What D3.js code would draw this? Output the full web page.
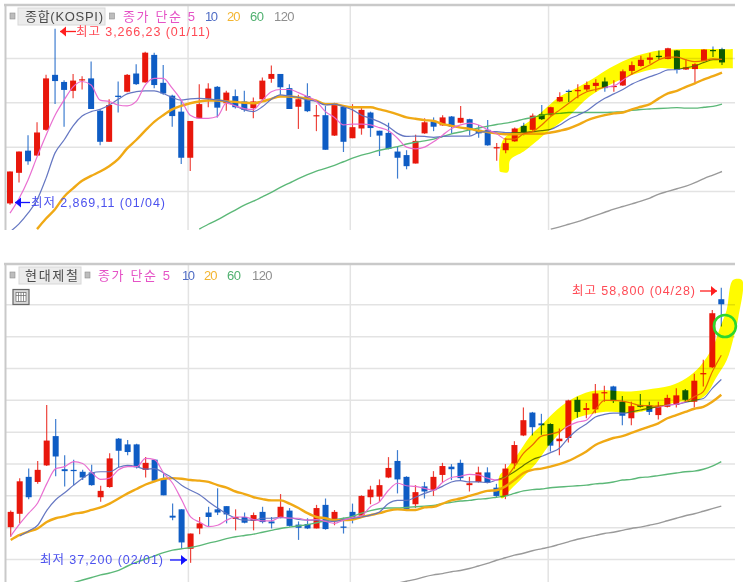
<!DOCTYPE html>
<html lang="ko">
<head>
<meta charset="utf-8">
<title>종합(KOSPI) / 현대제철 일봉</title>
<script src="https://cdn.jsdelivr.net/npm/d3@7/dist/d3.min.js"></script>
<style>
  html, body { margin: 0; padding: 0; background: #fff; }
  svg { display: block; }
  text { font-family: "Liberation Sans", "Noto Sans CJK KR", sans-serif; }
</style>
</head>
<body>
<svg id="chart" width="743" height="586"></svg>
<script>
// ---- KOSPI daily candles ----
const kospiOpen = [2872,2941,2991,2980,3038,3162,3146,3126,3150,3154,
  3081,3011,3115,3124,3165,3145,3207,3144,3115,3079,
  2975,3064,3108,3135,3098,3114,3102,3087,3107,3153,
  3164,3132,3090,3114,3069,3071,3025,3090,3019,3041,
  3077,3036,3031,2989,2981,2962,3030,3057,3048,3068,
  3054,3062,3038,3038,2996,2992,3012,3047,3038,3073,
  3071,3102,3126,3125,3129,3137,3147,3135,3138,3171,
  3182,3196,3205,3198,3217,3174,3175,3193,3218,3220];
const kospiHigh = [2944,2989,3026,3055,3162,3266,3150,3164,3159,3192,
  3083,3107,3147,3164,3186,3214,3212,3184,3117,3105,
  3058,3141,3143,3137,3126,3129,3126,3111,3156,3183,
  3164,3141,3117,3143,3094,3092,3099,3092,3096,3090,
  3079,3036,3054,3000,2992,3027,3064,3066,3071,3069,
  3092,3063,3049,3060,3008,3019,3043,3054,3075,3094,
  3090,3123,3129,3141,3147,3152,3156,3150,3174,3192,
  3205,3211,3217,3223,3218,3197,3188,3220,3226,3223];
const kospiLow = [2869,2919,2959,2979,3036,3096,3045,3109,3129,3085,
  3003,3011,3077,3123,3139,3144,3132,3117,3045,2961,
  2945,3064,3089,3066,3081,3086,3079,3064,3105,3144,
  3117,3085,3040,3078,3035,2993,3024,2988,3019,3027,
  3022,2979,2994,2928,2949,2962,3029,3035,3047,3029,
  3053,3025,3020,3002,2968,2985,3011,3026,3036,3060,
  3070,3101,3101,3109,3125,3124,3124,3124,3137,3162,
  3180,3187,3196,3197,3165,3173,3144,3193,3202,3184];
const kospiClose = [2944,2989,2967,3032,3154,3148,3128,3149,3152,3085,
  3011,3094,3112,3162,3141,3212,3139,3120,3069,2975,
  3058,3096,3131,3088,3122,3089,3083,3102,3149,3164,
  3134,3085,3107,3080,3071,2993,3098,3011,3044,3083,
  3042,3025,2995,2975,2956,3013,3055,3045,3066,3045,
  3065,3038,3030,3003,2999,3008,3041,3032,3070,3062,
  3089,3112,3124,3128,3139,3144,3132,3137,3170,3184,
  3196,3201,3202,3222,3173,3179,3186,3219,3216,3190];

// KOSPI moving averages; each *Start is the candle index of the first value
const kospiMa5Start = 0;
const kospiMa5 = [2850,2883,2925,2977,3026,3071,3105,3135,3147,3139,3105,3102,3094,3092,3102,3139,3154,3154,3132,3105,3071,3064,3064,3068,3098,3092,3086,
  3084,3105,3124,3129,3129,3122,3113,3102,3079,3066,3049,3051,3051,3049,3043,3036,3019,2999,2995,2999,3011,3026,3041,3049,3053,3049,3038,3029,
  3017,3017,3029,3034,3049,3068,3083,3098,3113,3124,3129,3134,3137,3150,3164,3174,3184,3196,3202,3202,3196,3192,3194,3198,3197];
const kospiMa10Start = 0;
const kospiMa10 = [2808,2826,2850,2880,2929,2986,3015,3047,3069,3079,3084,3094,3107,3119,3124,3126,3126,3120,3111,3105,3108,3109,3108,3105,3102,3092,3083,
  3079,3090,3107,3117,3114,3111,3105,3102,3094,3096,3090,3083,3071,3064,3056,3045,3030,3023,3024,3023,3021,3023,3024,3024,3024,3032,3034,3034,
  3032,3032,3032,3034,3036,3039,3049,3062,3071,3081,3096,3109,3119,3129,3141,3150,3158,3165,3173,3174,3178,3182,3190,3196,3197];
const kospiMa20Start = 3;
const kospiMa20 = [2814,2838,2859,2887,2906,2923,2934,2944,2956,2972,2996,3015,3036,3056,3071,3084,3092,3098,3102,3104,3104,3102,3101,3099,
  3098,3102,3108,3113,3113,3111,3108,3104,3096,3096,3092,3089,3089,3089,3084,3079,3073,3066,3063,3060,3058,3051,3047,3043,3040,3036,3033,3030,
  3028,3028,3029,3029,3029,3032,3036,3041,3049,3059,3066,3071,3075,3077,3084,3090,3096,3109,3120,3126,3135,3143,3152,3159,3167];
const kospiMa60Start = 21;
const kospiMa60 = [2814,2825,2835,2846,2857,2868,
  2877,2887,2897,2908,2918,2928,2937,2945,2951,2958,2966,2974,2981,2986,2992,2996,3000,3006,3010,3013,3017,3023,3029,3033,3038,3042,3046,3050,
  3053,3057,3062,3066,3071,3074,3075,3077,3077,3077,3077,3077,3078,3079,3082,3084,3085,3086,3087,3088,3087,3087,3089,3091,3096];
const kospiMa120Start = 60;
const kospiMa120 = [2814,2819,2825,2831,2838,2845,2852,2859,2865,2871,2877,2884,2893,2899,2905,2911,2919,2928,2936,2944];

const kospiGridValues = [2900, 3000, 3100, 3200];
const kospiMonthBreaks = [19.7, 37.7, 59.7];

// Highlighter band over the KOSPI rally: [candle index, index level]
const kospiBand = [[54.3,2950],[54.35,2944],[55.2,2942],[55.35,2947],[55.5,2970],[57,2989],[58.6,3015],[59.7,3034],[62.1,3071],[64.3,3113],[66.5,3139],[69.1,3162],[72,3177],[73.9,3175],[79.9,3177],[80.2,3177],
  [80.2,3180],[80.2,3217],[80.2,3220],[79.9,3220],[74.3,3220],[72,3217],[69.8,3207],[68.4,3196],[66.5,3177],[64.7,3154],[62.8,3132],[61,3113],[58.8,3075],[57.3,3053],[55.8,3034],[54.7,3015],[54.3,2977]];

// ---- Hyundai Steel daily candles ----
const steelOpen = [40000,41050,43950,43550,44850,47150,44550,44500,44350,44300,
  42350,43150,46950,46500,46500,44500,45300,43800,40900,41400,
  38300,39900,41150,41400,41650,40650,40800,40500,41200,40450,
  40750,41300,40200,40250,39900,41750,40550,40050,41200,40900,
  42350,42400,43900,45200,43950,41800,43200,42900,44100,44750,
  45050,43300,43550,44300,43100,42450,45000,47200,49000,48150,
  48100,46750,47000,50000,49200,49250,50550,51050,49850,48550,
  49600,49550,48800,49450,49600,50750,49850,52000,52550,57900];
const steelHigh = [41300,43850,44600,45200,49600,48500,45650,45300,44500,44900,
  43250,45800,47000,46850,46550,45500,45350,44250,41850,41400,
  39500,40800,41600,43050,41650,41400,41150,41150,41600,40800,
  42600,41500,40450,40700,41750,42250,41350,40750,41850,42500,
  43250,43750,45500,46050,44000,43300,43550,44400,45050,44950,
  45300,43950,44750,44700,43400,44950,46750,49400,49050,48900,
  48150,47750,50000,50250,49750,51250,51100,51100,50300,49850,
  50450,49850,49850,50400,50900,50850,52050,53150,57050,58800];
const steelLow = [39250,40300,42200,43400,44800,44000,43200,43300,43700,43250,
  42000,43100,44700,45650,44600,43900,43550,42500,40550,38350,
  37200,39450,40050,40950,40300,39750,40300,39750,40300,39900,
  40700,40050,39000,39850,39900,39800,40150,39500,40300,40800,
  41800,42000,43850,42650,41300,41500,42250,42450,43550,43700,
  43650,42800,43500,43450,42350,42200,44600,47150,47200,47250,
  45950,45650,46650,48600,48550,48950,49850,49750,48000,48000,
  49400,48800,48450,49400,49400,49850,49400,51050,52500,55750];
const steelClose = [41200,43600,42350,44500,46800,45550,44400,44400,43900,43300,
  42850,45400,46000,45900,44700,45050,43650,42500,40750,38800,
  39500,40300,40800,41150,41000,40800,40350,40950,40400,40300,
  41600,40100,39950,39900,41500,39850,41200,39950,40650,42450,
  42950,43300,44650,43750,41350,42750,42800,43950,44800,44550,
  43850,43450,44300,43500,42450,44600,46450,48400,47850,48000,
  46400,46950,49950,49050,49350,50500,50600,49900,48750,49500,
  49450,49050,49550,50150,50350,50000,51500,52100,56800,57500];

const steelMa5Start = 0;
const steelMa5 = [39300,40250,41100,41900,43400,44600,44750,45150,45000,44300,43750,43850,44500,44750,44750,45400,45300,44250,43450,42150,40800,40400,40050,40150,40550,40800,40800,
  40600,40500,40500,40800,40700,40700,40550,40600,40450,40300,40550,40750,40900,41600,42000,42900,43450,43250,43200,43050,42900,43500,43900,44000,44150,44100,43850,43700,
  43900,44750,45800,46450,47150,47300,47500,47950,48250,48400,49200,49950,49950,49900,49750,49550,49550,49450,49600,49650,49850,50250,50650,52200,53500];
const steelMa10Start = 1;
const steelMa10 = [39300,39700,40150,41300,42150,42700,43300,43850,44250,44350,44350,44700,44850,44750,44550,44600,44250,43850,43300,42900,42550,42000,41500,41050,40700,40550,
  40550,40700,40700,40750,40750,40600,40550,40550,40500,40450,40600,40700,40800,40950,41200,41850,42100,42100,42350,42650,42900,43200,43550,43650,43550,43550,43500,43700,
  43950,44350,44850,45300,45550,45850,46200,47000,47650,48100,48650,48850,48950,48950,49050,49200,49350,49450,49600,49650,49800,49950,50100,50900,51600];
const steelMa20Start = 0;
const steelMa20 = [39000,39400,39650,39900,40400,40700,40850,41050,41150,41350,41550,41850,42250,42650,43000,43350,43600,43800,43850,43800,43700,43650,43550,43300,43100,42800,42600,
  42350,42200,42100,42100,41850,41500,41100,40800,40700,40550,40550,40600,40800,40950,41100,41300,41400,41350,41350,41550,41600,41850,42100,42250,42450,42650,42850,42900,
  43200,43700,44250,44500,44600,44750,44950,45200,45550,45950,46450,46750,47000,47150,47400,47650,47900,48150,48550,48800,49050,49300,49450,49850,50400];
const steelMa60Start = 7;
const steelMa60 = [35650,35850,36050,36250,36400,36600,36950,37250,37500,37750,38000,38200,38300,38400,38550,38750,38900,39100,39250,39350,
  39450,39600,39750,39900,40000,40100,40200,40350,40500,40600,40700,40850,41100,41300,41450,41500,41500,41550,41600,41650,41700,41850,41950,42050,42100,42200,42250,42350,
  42450,42650,42850,42950,43000,43100,43150,43200,43250,43300,43400,43450,43550,43700,43750,43900,43950,44050,44150,44250,44350,44400,44550,44800,45150];
const steelMa120Start = 43;
const steelMa120 = [35600,35750,35900,36100,36250,36350,36500,36600,36750,36950,37150,37400,37600,37800,37950,38150,38300,38450,38650,38850,39050,39200,39350,39500,39600,39750,39900,40000,40150,40300,40500,40700,40900,41050,41250,41450,41650];

const steelGridValues = [37500,40000,42500,45000,47500,50000,52500,55000,57500];
const steelMonthBreaks = [19.7, 37.7, 59.7];

// Highlighter band following the Hyundai Steel breakout: [candle index, price]
const steelBand = [[54.6,42250],[55.5,42900],[57,43950],[58.4,45000],[59.7,46300],[61,47350],[62.5,48400],[64,48800],[65.9,49050],[67.3,49050],[69.6,49000],[72.1,49450],[74.4,49850],[75.9,49850],[77.3,50400],[78.4,51700],[79.6,53100],[80.3,54700],[80.9,56500],[81.3,59400],
  [80.3,59400],[79.6,57050],[78.9,55750],[78.1,54200],[76.6,52600],[75.1,51700],[73.3,51100],[70.7,50800],[68.4,50650],[66.2,50750],[64.4,50650],[62.5,50100],[60.7,49200],[59.2,48150],[57.7,47100],[56.2,45550],[55.1,44600],[54.3,43950]];
// Hand-drawn ring around the last session: candle index and price of its centre
const steelRing = [79.4, 55800];

// Line and candle colours
const UP = "#e8170c", DOWN = "#0e5cc4";
const MA_COLORS = { ma5: "#e867cf", ma10: "#5d70bf", ma20: "#f0a915", ma60: "#5cb878", ma120: "#9a9a9a" };
const LEGEND_COLORS = { ma5: "#e552c6", ma10: "#4f6cc4", ma20: "#f3b531", ma60: "#4fb06f", ma120: "#8f8f8f" };

const svg = d3.select("#chart");
svg.append("rect").attr("width", 743).attr("height", 586).attr("fill", "#fff");

function drawPanel(p) {
  const g = svg.append("g");
  const x = d3.scaleLinear().domain([0, 79]).range(p.xRange);
  const y = d3.scaleLinear().domain(p.yDomain).range(p.yRange);
  const left = 6, right = 735;

  // Grid through d3 axes with the labels left empty
  const hGrid = g.append("g").attr("transform", `translate(${left},0)`)
    .call(d3.axisRight(y).tickValues(p.grid).tickSize(right - left).tickFormat(""));
  const vGrid = g.append("g").attr("transform", `translate(0,${p.top})`)
    .call(d3.axisBottom(x).tickValues(p.breaks).tickSize(p.bottom - p.top).tickFormat(""));
  [hGrid, vGrid].forEach(a => {
    a.select(".domain").remove();
    a.selectAll("line").attr("stroke", "#e3e3e3").attr("stroke-width", 1.5);
  });

  // Frame: top and left edges only
  g.append("line").attr("x1", 4).attr("x2", right).attr("y1", p.top - 1).attr("y2", p.top - 1)
    .attr("stroke", "#c9c9c9").attr("stroke-width", 2.5);
  g.append("line").attr("x1", 5.5).attr("x2", 5.5).attr("y1", p.top - 2).attr("y2", p.bottom)
    .attr("stroke", "#c9c9c9").attr("stroke-width", 2);

  const clipId = "clip-" + p.id;
  svg.append("clipPath").attr("id", clipId).append("rect")
    .attr("x", left).attr("y", p.top).attr("width", right - left).attr("height", p.bottom - p.top);
  const plot = g.append("g").attr("clip-path", `url(#${clipId})`);

  // Candles
  const candles = d3.range(p.open.length).map(i => ({
    i, o: p.open[i], h: p.high[i], l: p.low[i], c: p.close[i]
  }));
  const color = d => d.c >= d.o ? UP : DOWN;
  plot.append("g").selectAll("line").data(candles).join("line")
    .attr("x1", d => x(d.i)).attr("x2", d => x(d.i))
    .attr("y1", d => y(d.h)).attr("y2", d => y(d.l))
    .attr("stroke", color).attr("stroke-width", 1.2).attr("stroke-opacity", 0.8);
  plot.append("g").selectAll("rect").data(candles).join("rect")
    .attr("x", d => x(d.i) - 3).attr("width", 6)
    .attr("y", d => y(Math.max(d.o, d.c)))
    .attr("height", d => Math.max(1.2, Math.abs(y(d.o) - y(d.c))))
    .attr("fill", color);

  // Moving averages
  const widths = { ma5: 1.2, ma10: 1.2, ma20: 2.4, ma60: 1.4, ma120: 1.4 };
  const opacity = { ma5: 0.95, ma10: 0.95, ma20: 1, ma60: 1, ma120: 1 };
  ["ma120", "ma60", "ma20", "ma10", "ma5"].forEach(k => {
    const s = p[k];
    const line = d3.line().x((v, i) => x(i + s.start)).y(v => y(v)).curve(d3.curveMonotoneX);
    plot.append("path").attr("d", line(s.values)).attr("fill", "none")
      .attr("stroke", MA_COLORS[k]).attr("stroke-width", widths[k])
      .attr("stroke-opacity", opacity[k]).attr("stroke-linejoin", "round");
  });

  // Highlighter stroke multiplied over the candles, so blue turns dark green
  const bandLine = d3.line().x(d => x(d[0])).y(d => y(d[1])).curve(d3.curveCatmullRomClosed.alpha(0.5));
  g.append("path").attr("d", bandLine(p.band)).attr("fill", "#fffb00")
    .style("mix-blend-mode", "multiply");

  // Legend row
  const row = p.top + 10.5;
  const square = cx => g.append("rect").attr("x", cx - 2.5).attr("y", row - 3.5).attr("width", 5).attr("height", 6)
    .attr("fill", "#bdbdbd").attr("stroke", "#8f8f8f").attr("stroke-width", 0.6);
  square(p.legend.sq1);
  square(p.legend.sq2);
  g.append("rect").attr("x", p.legend.boxX).attr("y", row - 8.5).attr("width", p.legend.boxW).attr("height", 17)
    .attr("fill", "#ececec").attr("stroke", "#d8d8d8");
  const label = (tx, str, fill, len) => {
    const t = g.append("text").attr("x", tx).attr("y", row + 4.8)
      .attr("font-size", 13).attr("fill", fill).text(str);
    if (len) t.attr("textLength", len).attr("lengthAdjust", "spacing");
  };
  label(p.legend.nameX, p.name, "#4a4a4a", p.legend.nameW);
  label(p.legend.maX, "종가 단순 5", LEGEND_COLORS.ma5, 72);
  label(p.legend.x10, "10", LEGEND_COLORS.ma10, 13);
  label(p.legend.x20, "20", LEGEND_COLORS.ma20, 13.5);
  label(p.legend.x60, "60", LEGEND_COLORS.ma60, 14);
  label(p.legend.x120, "120", LEGEND_COLORS.ma120, 20.5);

  return { g, x, y };
}

// Small filled arrow, dir = -1 points left and dir = 1 points right
function arrow(g, tipX, cy, dir, length, color) {
  const head = 6;
  g.append("line").attr("x1", tipX).attr("x2", tipX - dir * length).attr("y1", cy).attr("y2", cy)
    .attr("stroke", color).attr("stroke-width", 1.3);
  g.append("path")
    .attr("d", `M${tipX},${cy} L${tipX - dir * head},${cy - 5} L${tipX - dir * head},${cy + 5} Z`)
    .attr("fill", color);
}

function note(g, tx, cy, str, color, len) {
  g.append("text").attr("x", tx).attr("y", cy + 4.5).attr("font-size", 12.5).attr("fill", color)
    .attr("textLength", len).attr("lengthAdjust", "spacing").text(str);
}

const top1 = drawPanel({
  id: "kospi", name: "종합(KOSPI)", top: 6, bottom: 230,
  xRange: [10, 722], yDomain: [2900, 3200], yRange: [191, 58],
  open: kospiOpen, high: kospiHigh, low: kospiLow, close: kospiClose,
  ma5: { start: kospiMa5Start, values: kospiMa5 },
  ma10: { start: kospiMa10Start, values: kospiMa10 },
  ma20: { start: kospiMa20Start, values: kospiMa20 },
  ma60: { start: kospiMa60Start, values: kospiMa60 },
  ma120: { start: kospiMa120Start, values: kospiMa120 },
  grid: kospiGridValues, breaks: kospiMonthBreaks, band: kospiBand,
  legend: { sq1: 12.5, sq2: 112, boxX: 18, boxW: 87, nameX: 25, nameW: 78, maX: 123, x10: 205, x20: 227, x60: 250, x120: 274 }
});
arrow(top1.g, 60, 31.5, -1, 16, "#ff1f1f");
note(top1.g, 76, 31, "최고 3,266,23 (01/11)", "#ff4a55", 134);
arrow(top1.g, 15, 202.5, -1, 15, "#1212ff");
note(top1.g, 31, 202, "최저 2,869,11 (01/04)", "#4c52ee", 134);

const top2 = drawPanel({
  id: "steel", name: "현대제철", top: 265, bottom: 582,
  xRange: [10.7, 721.3], yDomain: [37500, 57500], yRange: [559, 304.3],
  open: steelOpen, high: steelHigh, low: steelLow, close: steelClose,
  ma5: { start: steelMa5Start, values: steelMa5 },
  ma10: { start: steelMa10Start, values: steelMa10 },
  ma20: { start: steelMa20Start, values: steelMa20 },
  ma60: { start: steelMa60Start, values: steelMa60 },
  ma120: { start: steelMa120Start, values: steelMa120 },
  grid: steelGridValues, breaks: steelMonthBreaks, band: steelBand,
  legend: { sq1: 12.5, sq2: 87.5, boxX: 19, boxW: 62, nameX: 25, nameW: 53, maX: 98, x10: 182, x20: 204, x60: 227, x120: 252 }
});
arrow(top2.g, 717, 291, 1, 17, "#ff1f1f");
note(top2.g, 572, 290.5, "최고 58,800 (04/28)", "#ff4a55", 123);
arrow(top2.g, 187, 560, 1, 17, "#1212ff");
note(top2.g, 40, 559, "최저 37,200 (02/01)", "#4c52ee", 123);

// Ring drawn by hand around the last candle
top2.g.append("ellipse")
  .attr("cx", top2.x(steelRing[0])).attr("cy", top2.y(steelRing[1]))
  .attr("rx", 11).attr("ry", 11)
  .attr("fill", "none").attr("stroke", "#2ed62e").attr("stroke-width", 2.6);

// Chart-settings button under the legend
const icon = top2.g.append("g").attr("transform", "translate(13,289.5)");
icon.append("rect").attr("width", 16).attr("height", 15).attr("fill", "#d8d8d8").attr("stroke", "#666").attr("stroke-width", 1.2);
icon.append("rect").attr("x", 3).attr("y", 3).attr("width", 10).attr("height", 9).attr("fill", "#fff").attr("stroke", "#666").attr("stroke-width", 0.7);
[5.5, 8, 10.5].forEach(ix => icon.append("line").attr("x1", ix).attr("x2", ix).attr("y1", 3).attr("y2", 12).attr("stroke", "#666").attr("stroke-width", 0.7));
icon.append("line").attr("x1", 3).attr("x2", 13).attr("y1", 6).attr("y2", 6).attr("stroke", "#666").attr("stroke-width", 0.7);
</script>
</body>
</html>
